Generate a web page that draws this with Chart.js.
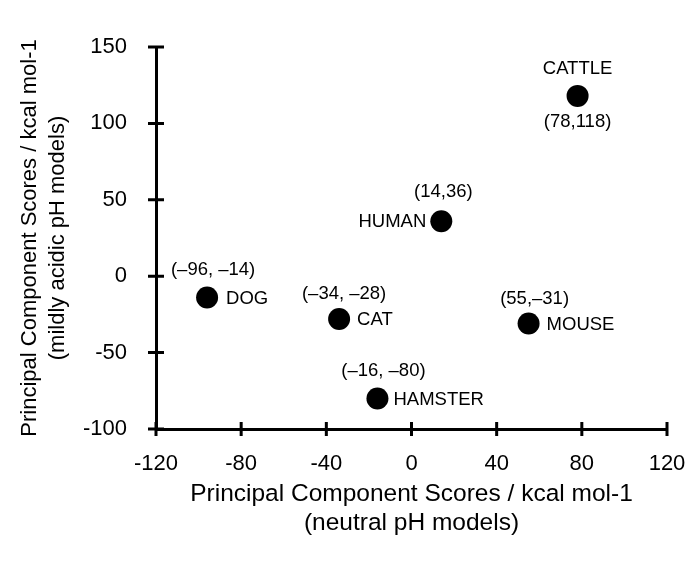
<!DOCTYPE html>
<html>
<head>
<meta charset="utf-8">
<script src="https://cdn.jsdelivr.net/npm/chart.js@4"></script>
<style>
  html, body { margin: 0; padding: 0; background: #fff; }
  #wrap { width: 700px; height: 561px; }
</style>
</head>
<body>
<div id="wrap"><canvas id="pca-chart"></canvas></div>
<script>
// species and their principal component scores
var species = ['CATTLE', 'HUMAN', 'DOG', 'CAT', 'MOUSE', 'HAMSTER'];
var neutralScores = [78, 14, -96, -34, 55, -16];
var acidicScores = [118, 36, -14, -28, -31, -80];
var coordLabels = ['(78,118)', '(14,36)', '(\u201396, \u201314)', '(\u201334, \u201328)', '(55,\u201331)', '(\u201316, \u201380)'];

var xTicks = [-120, -80, -40, 0, 40, 80, 120];
var yTicks = [-100, -50, 0, 50, 100, 150];

var FONT = 'Arial, "Liberation Sans", Helvetica, sans-serif';

// where the name and coordinate text sit next to each dot (pixel offsets)
var placement = {
  CATTLE:  { align: 'center', nx: 0,   ny: -27, cx: 0, cy: 26 },
  HUMAN:   { align: 'right',  nx: -15, ny: 1,   cx: 2, cy: -29 },
  DOG:     { align: 'left',   nx: 19,  ny: 1,   cx: 6, cy: -28 },
  CAT:     { align: 'left',   nx: 18,  ny: 1,   cx: 5, cy: -25 },
  MOUSE:   { align: 'left',   nx: 18,  ny: 1,   cx: 6, cy: -25 },
  HAMSTER: { align: 'left',   nx: 16,  ny: 1,   cx: 6, cy: -28 }
};

var points = [];
for (var i = 0; i < species.length; i++) {
  points.push({ x: neutralScores[i], y: acidicScores[i] });
}

// cross-shaped tick marks plus the point annotations
var extrasPlugin = {
  id: 'extras',
  afterDraw: function(chart) {
    var ctx = chart.ctx;
    var xs = chart.scales.x, ys = chart.scales.y;
    var axisY = chart.chartArea.bottom, axisX = chart.chartArea.left;
    ctx.save();
    ctx.strokeStyle = '#000';
    ctx.lineWidth = 3;
    ctx.beginPath();
    xTicks.forEach(function(v) {
      var px = xs.getPixelForValue(v);
      ctx.moveTo(px, axisY - 7);
      ctx.lineTo(px, axisY + 7);
    });
    yTicks.forEach(function(v) {
      var py = ys.getPixelForValue(v);
      ctx.moveTo(axisX - 8, py);
      ctx.lineTo(axisX + 8, py);
    });
    ctx.stroke();

    ctx.fillStyle = '#000';
    ctx.font = '18.5px ' + FONT;
    ctx.textBaseline = 'middle';
    for (var i = 0; i < species.length; i++) {
      var px = xs.getPixelForValue(neutralScores[i]);
      var py = ys.getPixelForValue(acidicScores[i]);
      var p = placement[species[i]];
      ctx.textAlign = p.align;
      ctx.fillText(species[i], px + p.nx, py + p.ny);
      ctx.textAlign = 'center';
      ctx.fillText(coordLabels[i], px + p.cx, py + p.cy);
    }
    ctx.restore();
  }
};

var ctx = document.getElementById('pca-chart').getContext('2d');
var chart = new Chart(ctx, {
  type: 'scatter',
  data: {
    datasets: [{
      label: 'species',
      data: points,
      backgroundColor: '#000',
      borderWidth: 0,
      pointRadius: 11,
      pointHoverRadius: 11
    }]
  },
  options: {
    responsive: true,
    maintainAspectRatio: false,
    animation: false,
    layout: { padding: { top: 47, right: 33, left: 0, bottom: 0 } },
    plugins: {
      legend: { display: false },
      tooltip: { enabled: false }
    },
    scales: {
      x: {
        type: 'linear',
        min: -120,
        max: 120,
        afterBuildTicks: function(scale) {
          scale.ticks = xTicks.map(function(v) { return { value: v }; });
        },
        afterFit: function(scale) { scale.height = 132; },
        grid: { display: false },
        border: { display: true, color: '#000', width: 3 },
        ticks: {
          color: '#000',
          padding: 14,
          font: { family: FONT, size: 22 },
          callback: function(v) { return String(v); }
        },
        title: {
          display: true,
          text: ['Principal Component Scores / kcal mol-1', '(neutral pH models)'],
          color: '#000',
          font: { family: FONT, size: 24.5, lineHeight: 1.18 },
          padding: { top: 0, bottom: 23 }
        }
      },
      y: {
        type: 'linear',
        min: -100,
        max: 150,
        afterBuildTicks: function(scale) {
          scale.ticks = yTicks.map(function(v) { return { value: v }; });
        },
        afterFit: function(scale) { scale.width = 156; },
        grid: { display: false },
        border: { display: true, color: '#000', width: 3 },
        ticks: {
          color: '#000',
          padding: 21,
          font: { family: FONT, size: 22 },
          callback: function(v) { return String(v); }
        },
        title: {
          display: true,
          text: ['Principal Component Scores / kcal mol-1', '(mildly acidic pH models)'],
          color: '#000',
          font: { family: FONT, size: 22, lineHeight: 1.27 },
          padding: { top: 16, bottom: 0 }
        }
      }
    }
  },
  plugins: [extrasPlugin]
});
</script>
</body>
</html>
